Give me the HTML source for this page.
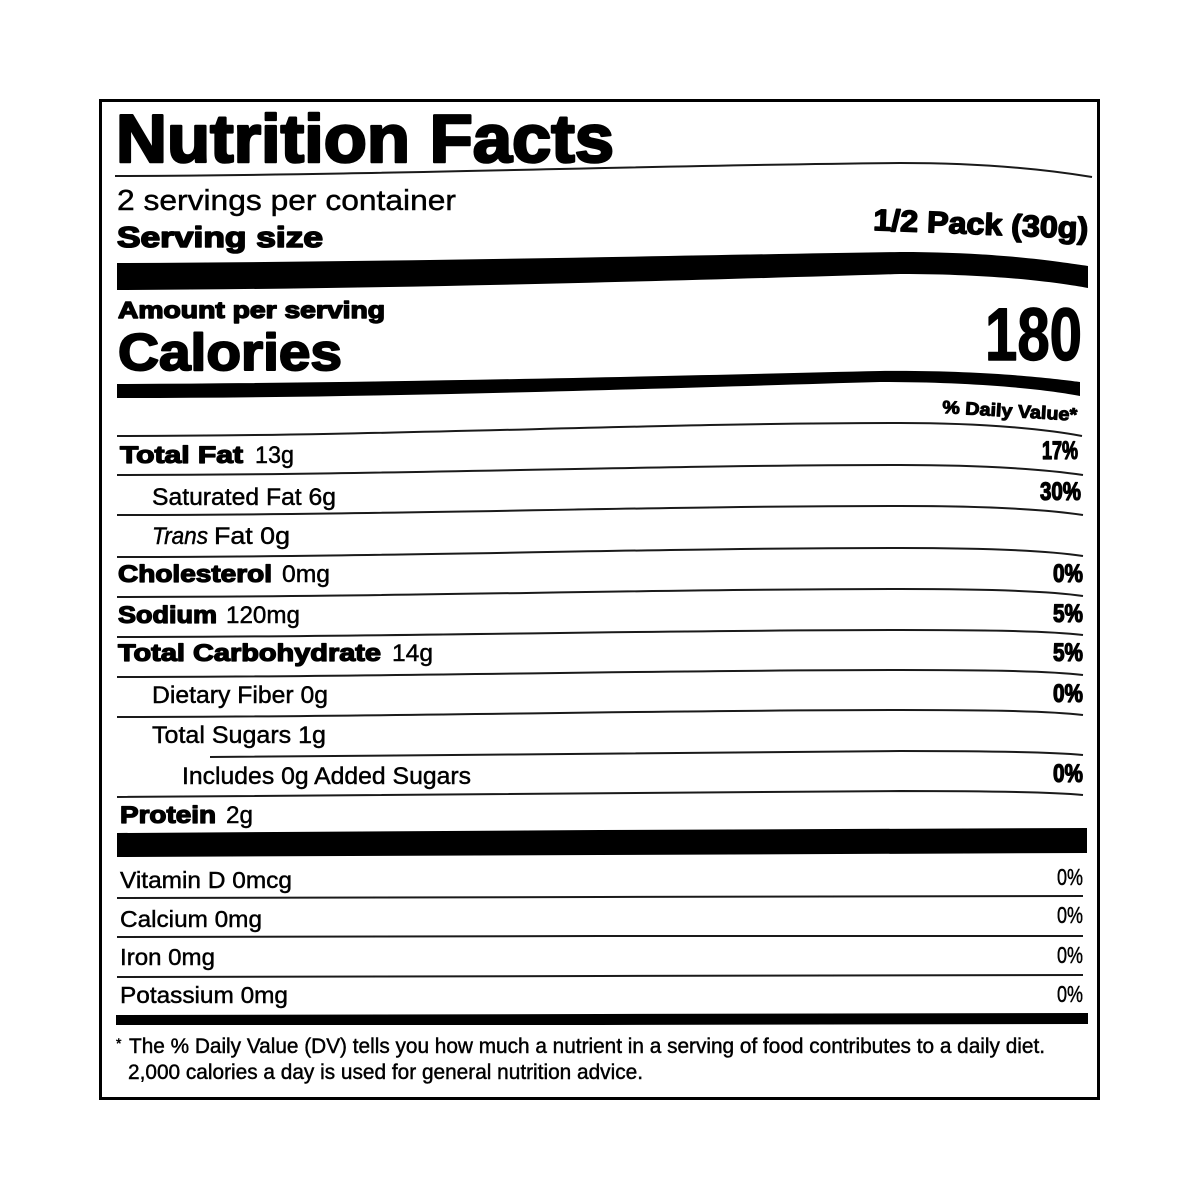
<!DOCTYPE html>
<html>
<head>
<meta charset="utf-8">
<style>
  html, body { margin: 0; padding: 0; background: #ffffff; }
  svg { display: block; }
  text { font-family: "Liberation Sans", Arial, sans-serif; fill: #000; }
  .hv { font-weight: bold; stroke: #000; stroke-linejoin: round; }
  .rg { font-weight: normal; stroke: #000; stroke-width: 0.45; }
  .ln { fill: none; stroke: #1a1a1a; stroke-width: 2; }
</style>
</head>
<body>
<svg width="1200" height="1200" viewBox="0 0 1200 1200" xmlns="http://www.w3.org/2000/svg">
  <rect x="0" y="0" width="1200" height="1200" fill="#ffffff"/>
  <!-- outer border -->
  <rect x="100.5" y="100.5" width="998" height="998" fill="none" stroke="#000" stroke-width="3"/>

  <!-- Title -->
  <text class="hv" x="116" y="162" font-size="68" stroke-width="2.6" textLength="498" lengthAdjust="spacingAndGlyphs">Nutrition Facts</text>
  <path class="ln" d="M115,176 C400,175 650,165 900,163 C990,163 1050,170 1092,177"/>

  <text class="rg" x="117" y="210" font-size="29" stroke-width="1.1" textLength="339" lengthAdjust="spacingAndGlyphs">2 servings per container</text>
  <text class="hv" x="117" y="247" font-size="29" stroke-width="1.6" textLength="206" lengthAdjust="spacingAndGlyphs">Serving size</text>
  <text class="hv" x="873" y="230" font-size="30" stroke-width="1.5" textLength="215" lengthAdjust="spacingAndGlyphs" transform="rotate(2.3 873 230)">1/2 Pack (30g)</text>

  <!-- Bar 1 -->
  <path d="M117,263 C400,262 700,255 900,252 C1000,252 1060,262 1088,266 L1088,288 C1060,283 1000,274 900,274 C700,280 400,289 117,290 Z" fill="#000"/>

  <text class="hv" x="118" y="318" font-size="23" stroke-width="1.4" textLength="267" lengthAdjust="spacingAndGlyphs">Amount per serving</text>
  <text class="hv" x="118" y="370" font-size="52" stroke-width="2" textLength="224" lengthAdjust="spacingAndGlyphs">Calories</text>
  <text class="hv" x="985" y="360" font-size="74" stroke-width="1.4" textLength="97" lengthAdjust="spacingAndGlyphs">180</text>

  <!-- Bar 2 -->
  <path d="M117,384 C400,383 700,375 880,371 C980,370 1050,378 1080,382 L1080,396 C1050,390 980,382 880,382 C700,387 400,398 117,398 Z" fill="#000"/>

  <text class="hv" x="942" y="413" font-size="18" stroke-width="1" textLength="135" lengthAdjust="spacingAndGlyphs" transform="rotate(3.3 942 413)">% Daily Value*</text>

  <!-- thin lines -->
  <path class="ln" d="M117,436 C400,436 650,423 900,423 C990,423 1050,430 1082,436"/>
  <path class="ln" d="M117,475 C400,475 650,465 900,465 C990,465 1050,470 1083,475"/>
  <path class="ln" d="M117,515 C400,515 650,506 900,506 C990,506 1050,510 1083,515"/>
  <path class="ln" d="M117,557 C400,557 650,548 900,548 C990,548 1050,551 1083,556"/>
  <path class="ln" d="M117,597 C400,597 650,589 900,589 C990,589 1050,591 1083,596"/>
  <path class="ln" d="M117,637 C400,637 650,630 900,630 C990,630 1050,631 1083,635"/>
  <path class="ln" d="M117,677 C400,677 650,670 900,670 C990,670 1050,671 1083,675"/>
  <path class="ln" d="M117,717 C400,717 650,710 900,710 C990,710 1050,711 1083,715"/>
  <path class="ln" d="M210,757 C450,757 650,751 900,751 C990,751 1050,752 1083,755"/>
  <path class="ln" d="M117,797 C400,797 650,791 900,791 C990,791 1050,792 1083,795"/>

  <!-- Rows -->
  <text class="hv" x="120" y="463" font-size="24" stroke-width="1.3" textLength="123" lengthAdjust="spacingAndGlyphs">Total Fat</text>
  <text class="rg" x="255" y="463" font-size="24" textLength="39" lengthAdjust="spacingAndGlyphs">13g</text>
  <text class="hv" x="1042" y="459" font-size="25" stroke-width="1.3" textLength="36" lengthAdjust="spacingAndGlyphs">17%</text>

  <text class="rg" x="152" y="505" font-size="24" textLength="184" lengthAdjust="spacingAndGlyphs">Saturated Fat 6g</text>
  <text class="hv" x="1040" y="500" font-size="25" stroke-width="1.3" textLength="41" lengthAdjust="spacingAndGlyphs">30%</text>

  <text class="rg" x="152" y="544" font-size="24" font-style="italic" textLength="56" lengthAdjust="spacingAndGlyphs">Trans</text>
  <text class="rg" x="214" y="544" font-size="24" textLength="76" lengthAdjust="spacingAndGlyphs">Fat 0g</text>

  <text class="hv" x="118" y="582" font-size="24" stroke-width="1.3" textLength="154" lengthAdjust="spacingAndGlyphs">Cholesterol</text>
  <text class="rg" x="282" y="582" font-size="24" textLength="48" lengthAdjust="spacingAndGlyphs">0mg</text>
  <text class="hv" x="1053" y="582" font-size="25" stroke-width="1.3" textLength="30" lengthAdjust="spacingAndGlyphs">0%</text>

  <text class="hv" x="118" y="623" font-size="24" stroke-width="1.3" textLength="99" lengthAdjust="spacingAndGlyphs">Sodium</text>
  <text class="rg" x="226" y="623" font-size="24" textLength="74" lengthAdjust="spacingAndGlyphs">120mg</text>
  <text class="hv" x="1053" y="622" font-size="25" stroke-width="1.3" textLength="30" lengthAdjust="spacingAndGlyphs">5%</text>

  <text class="hv" x="118" y="661" font-size="24" stroke-width="1.3" textLength="263" lengthAdjust="spacingAndGlyphs">Total Carbohydrate</text>
  <text class="rg" x="392" y="661" font-size="24" textLength="41" lengthAdjust="spacingAndGlyphs">14g</text>
  <text class="hv" x="1053" y="661" font-size="25" stroke-width="1.3" textLength="30" lengthAdjust="spacingAndGlyphs">5%</text>

  <text class="rg" x="152" y="703" font-size="24" textLength="176" lengthAdjust="spacingAndGlyphs">Dietary Fiber 0g</text>
  <text class="hv" x="1053" y="702" font-size="25" stroke-width="1.3" textLength="30" lengthAdjust="spacingAndGlyphs">0%</text>

  <text class="rg" x="152" y="743" font-size="24" textLength="174" lengthAdjust="spacingAndGlyphs">Total Sugars 1g</text>

  <text class="rg" x="182" y="784" font-size="24" textLength="289" lengthAdjust="spacingAndGlyphs">Includes 0g Added Sugars</text>
  <text class="hv" x="1053" y="782" font-size="25" stroke-width="1.3" textLength="30" lengthAdjust="spacingAndGlyphs">0%</text>

  <text class="hv" x="120" y="823" font-size="24" stroke-width="1.3" textLength="96" lengthAdjust="spacingAndGlyphs">Protein</text>
  <text class="rg" x="226" y="823" font-size="24" textLength="27" lengthAdjust="spacingAndGlyphs">2g</text>

  <!-- Bar 3 -->
  <path d="M117,833 L600,830 L1087,828 L1087,853 L600,855 L117,857 Z" fill="#000"/>

  <!-- Vitamins -->
  <text class="rg" x="120" y="888" font-size="23" textLength="172" lengthAdjust="spacingAndGlyphs">Vitamin D 0mcg</text>
  <text class="rg" x="1057" y="885" font-size="23" textLength="26" lengthAdjust="spacingAndGlyphs">0%</text>
  <path class="ln" d="M117,898 L600,897 L1083,896"/>

  <text class="rg" x="120" y="927" font-size="23" textLength="142" lengthAdjust="spacingAndGlyphs">Calcium 0mg</text>
  <text class="rg" x="1057" y="923" font-size="23" textLength="26" lengthAdjust="spacingAndGlyphs">0%</text>
  <path class="ln" d="M117,937 L600,936 L1083,936"/>

  <text class="rg" x="120" y="965" font-size="23" textLength="95" lengthAdjust="spacingAndGlyphs">Iron 0mg</text>
  <text class="rg" x="1057" y="963" font-size="23" textLength="26" lengthAdjust="spacingAndGlyphs">0%</text>
  <path class="ln" d="M117,977 L600,976 L1083,975"/>

  <text class="rg" x="120" y="1003" font-size="23" textLength="168" lengthAdjust="spacingAndGlyphs">Potassium 0mg</text>
  <text class="rg" x="1057" y="1002" font-size="23" textLength="26" lengthAdjust="spacingAndGlyphs">0%</text>

  <!-- Bar 4 -->
  <path d="M116,1015 L600,1014 L1088,1013 L1088,1024 L600,1025 L116,1025 Z" fill="#000"/>

  <!-- Footnote -->
  <text class="rg" x="116" y="1048" font-size="14">*</text>
  <text class="rg" x="129" y="1053" font-size="21" textLength="916" lengthAdjust="spacingAndGlyphs">The % Daily Value (DV) tells you how much a nutrient in a serving of food contributes to a daily diet.</text>
  <text class="rg" x="128" y="1079" font-size="21" textLength="515" lengthAdjust="spacingAndGlyphs">2,000 calories a day is used for general nutrition advice.</text>
</svg>
</body>
</html>
